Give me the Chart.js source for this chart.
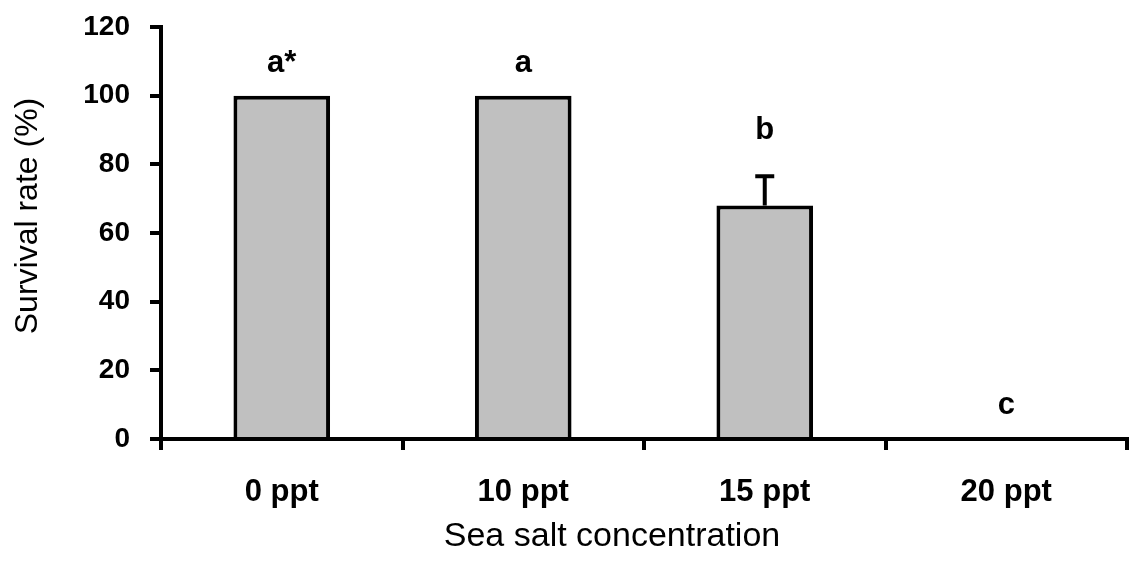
<!DOCTYPE html>
<html>
<head>
<meta charset="utf-8">
<script src="https://cdn.jsdelivr.net/npm/chart.js@4.4.1/dist/chart.umd.min.js"></script>
<style>
  html, body { margin: 0; padding: 0; background: #ffffff; }
  #wrap { width: 1133px; height: 566px; }
</style>
</head>
<body>
<div id="wrap"><canvas id="c" width="1133" height="566"></canvas></div>
<script>
const categories = ['0 ppt', '10 ppt', '15 ppt', '20 ppt'];
const survival = [100, 100, 68, 0];
const errorUp = [0, 0, 8.5, 0];
const letters = ['a*', 'a', 'b', 'c'];
const letterLevels = [107, 107, 87.5, 7.4];
const yTicks = [0, 20, 40, 60, 80, 100, 120];
const xTitle = 'Sea salt concentration';
const yTitle = 'Survival rate (%)';

const FONT = "'Liberation Sans', Arial, sans-serif";

const annotate = {
  id: 'annotate',
  afterDatasetsDraw(chart) {
    const ctx = chart.ctx;
    const xs = chart.scales.x, ys = chart.scales.y;
    const ca = chart.chartArea;
    ctx.save();
    ctx.strokeStyle = '#000';
    ctx.lineWidth = 4;
    survival.forEach((v, i) => {
      if (!errorUp[i]) return;
      const x = xs.getPixelForValue(i);
      const y0 = ys.getPixelForValue(v);
      const y1 = ys.getPixelForValue(v + errorUp[i]);
      ctx.beginPath();
      ctx.moveTo(x, y0);
      ctx.lineTo(x, y1);
      ctx.moveTo(x - 9.5, y1);
      ctx.lineTo(x + 9.5, y1);
      ctx.stroke();
    });
    ctx.fillStyle = '#000';
    ctx.font = 'bold 31px ' + FONT;
    ctx.textAlign = 'center';
    ctx.textBaseline = 'alphabetic';
    letters.forEach((t, i) => {
      ctx.fillText(t, xs.getPixelForValue(i), ys.getPixelForValue(letterLevels[i]));
    });
    // axis titles
    ctx.textBaseline = 'middle';
    ctx.font = '34px ' + FONT;
    ctx.fillText(xTitle, (ca.left + ca.right) / 2 - 32, chart.height - 29);
    ctx.font = '32px ' + FONT;
    ctx.translate(28, (ca.top + ca.bottom) / 2 - 17);
    ctx.rotate(-Math.PI / 2);
    ctx.fillText(yTitle, 0, 0);
    ctx.restore();
  }
};

new Chart(document.getElementById('c'), {
  type: 'bar',
  data: {
    labels: categories,
    datasets: [{
      data: survival,
      backgroundColor: '#c0c0c0',
      borderColor: '#000000',
      borderWidth: 4,
      borderSkipped: 'start',
      categoryPercentage: 1.0,
      barPercentage: 0.4
    }]
  },
  options: {
    responsive: false,
    animation: false,
    devicePixelRatio: 1,
    layout: { padding: { top: 27, right: 6, left: 0, bottom: 0 } },
    plugins: { legend: { display: false }, tooltip: { enabled: false } },
    scales: {
      x: {
        offset: true,
        afterFit(s) { s.height = 127; s.paddingLeft = 0; s.paddingRight = 0; },
        grid: { display: true, drawOnChartArea: false, drawTicks: true, tickLength: 11, color: '#000', lineWidth: 4, offset: true },
        border: { display: true, color: '#000', width: 4 },
        ticks: { color: '#000', font: { family: FONT, size: 31, weight: 'bold' }, padding: 24, maxRotation: 0 },
        title: { display: false }
      },
      y: {
        min: 0, max: 120,
        afterFit(s) { s.width = 161; s.paddingTop = 0; s.paddingBottom = 0; },
        afterBuildTicks(s) { s.ticks = yTicks.map(v => ({ value: v })); },
        grid: { display: true, drawOnChartArea: false, drawTicks: true, tickLength: 11, color: '#000', lineWidth: 4 },
        border: { display: true, color: '#000', width: 4 },
        ticks: { color: '#000', font: { family: FONT, size: 28, weight: 'bold' }, padding: 20 },
        title: { display: false }
      }
    }
  },
  plugins: [annotate]
});
</script>
</body>
</html>
